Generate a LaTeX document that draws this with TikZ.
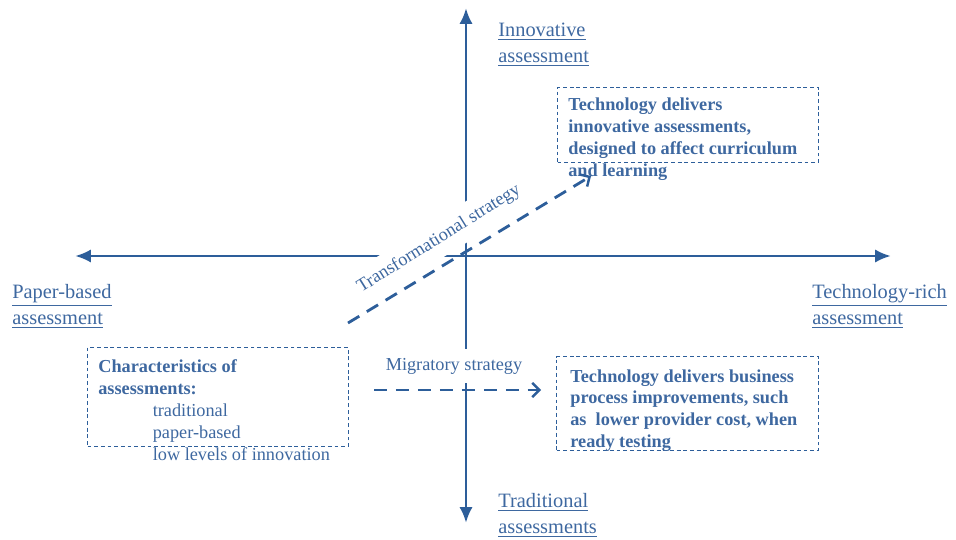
\documentclass[tikz,border=0pt]{standalone}
\usepackage{fontspec}
\setmainfont{Liberation Serif}
\usetikzlibrary{arrows.meta,positioning}
\definecolor{axisblue}{RGB}{45,94,154}
\definecolor{labelblue}{RGB}{62,104,160}

\begin{document}
\begin{tikzpicture}[x=0.02cm,y=-0.02cm,
    axis/.style={draw=axisblue,line width=1.6pt},
    strategy/.style={draw=axisblue,line width=1.6pt,dash pattern=on 7.5pt off 5pt,-{Straight Barb[length=4pt,width=8pt,line width=1.4pt]}},
    axislabel/.style={text=labelblue,font=\fontsize{11.6}{14.8}\selectfont,align=left,inner sep=0pt,anchor=north west},
    stratlabel/.style={text=labelblue,font=\fontsize{10.4}{12.5}\selectfont,fill=white,inner xsep=3pt,inner ysep=5.3pt},
    boxframe/.style={draw=axisblue,line width=0.6pt,dash pattern=on 2.2pt off 1.6pt,inner sep=0pt,anchor=north west},
    boxtext/.style={text=labelblue,font=\fontsize{10.4}{12.5}\selectfont\bfseries,align=left,inner sep=0pt}]
  \useasboundingbox (0,0) rectangle (956,540);
  % axes
  \coordinate (n) at (466,8);
  \coordinate (s) at (466,523);
  \coordinate (w) at (75,256);
  \coordinate (e) at (891,256);
  \draw [axis,{Latex[length=9pt,width=7.5pt]}-{Latex[length=9pt,width=7.5pt]}] (s) -- (n);
  \draw [axis,{Latex[length=9pt,width=7.5pt]}-{Latex[length=9pt,width=7.5pt]}] (w) -- (e);
  % axis labels
  \node [axislabel] (innov) at (498,23) {\underline{Innovative}\\\underline{assessment}};
  \node [axislabel] (trad) at (498,493) {\underline{Traditional}\\\underline{assessments}};
  \node [axislabel] (paper) at (12,284) {\underline{Paper-based}\\\underline{assessment}};
  \node [axislabel] (techrich) at (812,284) {\underline{Technology-rich}\\\underline{assessment}};
  % boxes
  \node [boxframe,minimum width=5.22cm,minimum height=1.5cm] (innovbox) at (557,87) {};
  \node [boxtext,below right=0.21cm and 0.22cm of innovbox.north west] (innovtext)
    {Technology delivers\\innovative assessments,\\designed to affect curriculum\\and learning};
  \node [boxframe,minimum width=5.24cm,minimum height=1.88cm] (migbox) at (556,356) {};
  \node [boxtext,below right=0.26cm and 0.28cm of migbox.north west] (migtext)
    {Technology delivers business\\process improvements, such\\as\ \ lower provider cost, when\\ready testing};
  \node [boxframe,minimum width=5.22cm,minimum height=1.98cm] (charbox) at (87,347) {};
  \node [boxtext,below right=0.24cm and 0.22cm of charbox.north west] (chartext)
    {Characteristics of\\assessments:\\
     \mdseries\hspace*{31pt}traditional\\
     \mdseries\hspace*{31pt}paper-based\\
     \mdseries\hspace*{31pt}low levels of innovation};
  % strategies
  \node [stratlabel,rotate=32] (translabel) at (439,239) {Transformational strategy};
  \node [stratlabel] (miglabel) at (454,366) {Migratory strategy};
  \coordinate (tstart) at (348,323);
  \coordinate (tend) at (591,176);
  \coordinate (mstart) at (374,390);
  \coordinate (mend) at (541,390);
  \draw [strategy] (tstart) -- (tend);
  \draw [strategy] (mstart) -- (mend);
\end{tikzpicture}
\end{document}
